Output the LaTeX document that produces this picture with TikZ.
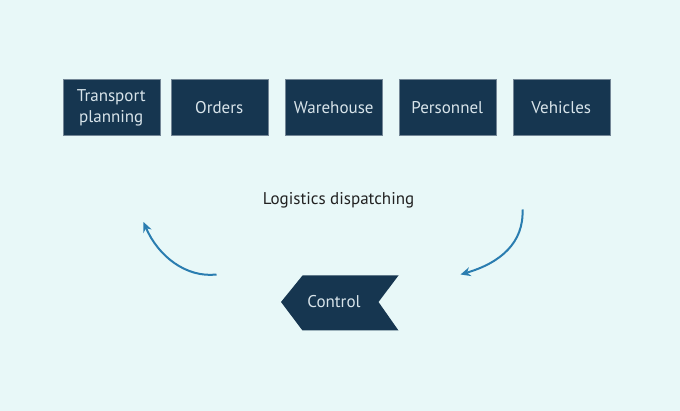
\documentclass[tikz,border=0pt]{standalone}
\usepackage{fontspec}
\setmainfont{PT Sans}
\usetikzlibrary{arrows.meta}
\definecolor{bg}{HTML}{E8F8F8}
\definecolor{boxc}{HTML}{163650}
\definecolor{boxtext}{HTML}{D8E4EA}
\definecolor{arrc}{HTML}{2A7DB0}
\definecolor{lbl}{HTML}{222222}
\begin{document}
\begin{tikzpicture}[x=1pt,y=-1pt,
  topbox/.style={fill=boxc,draw=boxc!60!white,line width=0.5pt,minimum width=97pt,minimum height=56pt,inner sep=0pt,text=boxtext,font=\fontsize{17}{21}\selectfont,align=center,anchor=north west},
  flow/.style={draw=arrc,line width=2pt,-{Stealth[length=10pt,width=9pt]}}]
\fill[bg] (0,0) rectangle (680,411);
\useasboundingbox (0,0) rectangle (680,411);
\node[topbox] (tp) at (62.5,79.5) {Transport\\planning};
\node[topbox] (ord) at (170.5,79.5) {Orders};
\node[topbox] (wh) at (285,79.5) {Warehouse};
\node[topbox] (per) at (398.5,79.5) {Personnel};
\node[topbox] (veh) at (512.5,79.5) {Vehicles};
\node[text=lbl,font=\fontsize{17}{21}\selectfont] (ld) at (338.5,200.5) {Logistics dispatching};
\fill[boxc] (281,302) -- (302.5,275.5) -- (398.5,275.5) -- (378.5,302) -- (398.5,330.5) -- (302.5,330.5) -- cycle;
\node[text=boxtext,font=\fontsize{17}{21}\selectfont] (ctl) at (334,302) {Control};
\coordinate (a1s) at (216.5,274.5);
\coordinate (a1e) at (143.5,222);
\coordinate (a2s) at (522.5,209.5);
\coordinate (a2e) at (460.5,274.5);
\draw[flow] (a1s) .. controls (186,278) and (158,256) .. (a1e);
\draw[flow] (a2s) .. controls (524,243) and (500,263) .. (a2e);
\end{tikzpicture}
\end{document}
